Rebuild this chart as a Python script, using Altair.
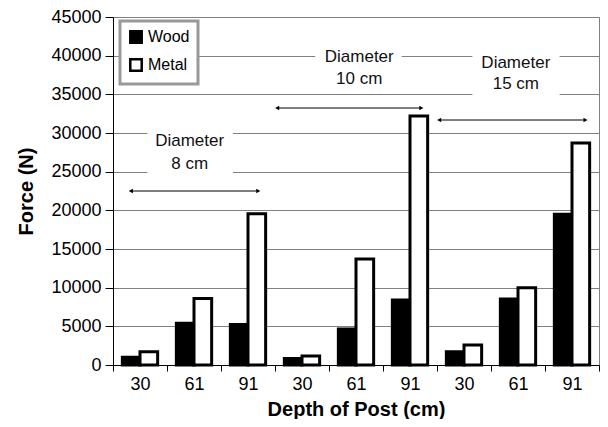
import altair as alt
import pandas as pd

FONT = "Liberation Sans"

diameters = ["8", "10", "15"]
depths = ["30", "61", "91"]
materials = ["Wood", "Metal"]
wood = [1000, 5400, 5250, 850, 4650, 8400, 1700, 8550, 19500]
metal = [1700, 8600, 19550, 1150, 13700, 32200, 2600, 10000, 28700]
y_ticks = [0, 5000, 10000, 15000, 20000, 25000, 30000, 35000, 40000, 45000]

# annotations (x in group units 0..9, y in Newtons)
ann_line1 = ["Diameter", "Diameter", "Diameter"]
ann_line2 = ["8 cm", "10 cm", "15 cm"]
ann_x = [1.42, 4.56, 7.46]
ann_y1 = [28970, 39830, 39050]
ann_y2 = [25990, 36980, 36340]
bg_x1 = [0.636, 3.745, 6.655]
bg_x2 = [2.22, 5.345, 8.27]
bg_y1 = [30780, 41250, 40860]
bg_y2 = [24310, 38660, 34400]
arrow_x1 = [0.33, 3.04, 6.04]
arrow_x2 = [2.69, 5.71, 8.75]
arrow_y = [22500, 33230, 31680]

rows = []
keys = []
i = 0
for d in diameters:
    for dep in depths:
        key = f"{d}-{dep}"
        keys.append(key)
        rows.append({"key": key, "material": "Wood", "force": wood[i]})
        rows.append({"key": key, "material": "Metal", "force": metal[i]})
        i += 1
bars_df = pd.DataFrame(rows)

text_rows = []
for k in range(3):
    text_rows.append({"ax": ann_x[k], "ay": ann_y1[k], "t": ann_line1[k]})
    text_rows.append({"ax": ann_x[k], "ay": ann_y2[k], "t": ann_line2[k]})
text_df = pd.DataFrame(text_rows)
bg_df = pd.DataFrame({"x1": bg_x1, "x2": bg_x2, "y1": bg_y1, "y2": bg_y2})
arrow_df = pd.DataFrame({"x1": arrow_x1, "x2": arrow_x2, "y": arrow_y})

yscale = alt.Scale(domain=[0, 45000], nice=False)
ascale = alt.Scale(domain=[0, 9], nice=False, zero=False)

yaxis = alt.Axis(title="Force (N)", values=y_ticks,
                 format="d", labelOverlap=False, tickCount=10,
                 tickSize=8, labelPadding=4, titlePadding=14,
                 domainColor="black", tickColor="black",
                 gridColor="#808080", gridWidth=1,
                 labelFont=FONT, labelFontSize=18, labelColor="black",
                 titleFont=FONT, titleFontSize=20, titleFontWeight="bold",
                 titleColor="black")

bars = alt.Chart(bars_df).mark_bar(stroke="black", strokeWidth=3).encode(
    x=alt.X("key:N", sort=keys,
            scale=alt.Scale(paddingInner=0, paddingOuter=0),
            axis=alt.Axis(title="Depth of Post (cm)",
                          labelExpr="split(datum.label, '-')[1]",
                          labelAngle=0, tickBand="extent",
                          tickSize=6, labelPadding=4, titlePadding=6,
                          domainColor="black", tickColor="black",
                          labelFont=FONT, labelFontSize=18, labelColor="black",
                          titleFont=FONT, titleFontSize=20, titleFontWeight="bold",
                          titleColor="black", grid=False)),
    xOffset=alt.XOffset("material:N", sort=materials,
                        scale=alt.Scale(domain=materials, paddingInner=0, paddingOuter=0.53)),
    y=alt.Y("force:Q", scale=yscale, axis=yaxis),
    fill=alt.Fill("material:N", sort=materials,
                  scale=alt.Scale(domain=materials, range=["black", "white"]),
                  legend=alt.Legend(title=None, orient="none", legendX=7, legendY=4,
                                    symbolType="square", symbolSize=130,
                                    symbolStrokeColor="black", symbolStrokeWidth=2.5,
                                    labelFont=FONT, labelFontSize=16, labelColor="black",
                                    strokeColor="#999999", fillColor="white",
                                    padding=8, rowPadding=6, labelOffset=4)),
)

bg = alt.Chart(bg_df).mark_rect(fill="white").encode(
    x=alt.X("x1:Q", scale=ascale, axis=None),
    x2="x2:Q",
    y=alt.Y("y1:Q", scale=yscale, axis=yaxis),
    y2="y2:Q",
)

rules = alt.Chart(arrow_df).mark_rule(color="black", strokeWidth=1).encode(
    x=alt.X("x1:Q", scale=ascale, axis=None),
    x2="x2:Q",
    y=alt.Y("y:Q", scale=yscale, axis=yaxis),
)

head_l = alt.Chart(arrow_df).mark_point(shape="triangle-left", filled=True,
                                        color="black", size=22, opacity=1).encode(
    x=alt.X("x1:Q", scale=ascale, axis=None),
    y=alt.Y("y:Q", scale=yscale, axis=yaxis),
)
head_r = alt.Chart(arrow_df).mark_point(shape="triangle-right", filled=True,
                                        color="black", size=22, opacity=1).encode(
    x=alt.X("x2:Q", scale=ascale, axis=None),
    y=alt.Y("y:Q", scale=yscale, axis=yaxis),
)

texts = alt.Chart(text_df).mark_text(font=FONT, fontSize=17, color="#111111",
                                     align="center", baseline="middle").encode(
    x=alt.X("ax:Q", scale=ascale, axis=None),
    y=alt.Y("ay:Q", scale=yscale, axis=yaxis),
    text="t:N",
)

chart = alt.layer(bars, bg, rules, head_l, head_r, texts).resolve_scale(
    x="independent"
).properties(
    width=486, height=348,
    padding={"left": 8, "top": 0, "right": 0, "bottom": 0},
).configure_view(
    stroke="#808080", strokeWidth=1
).configure_legend(
    strokeWidth=3
)

chart.save("out.html", embed_options={"renderer": "svg", "actions": False})
